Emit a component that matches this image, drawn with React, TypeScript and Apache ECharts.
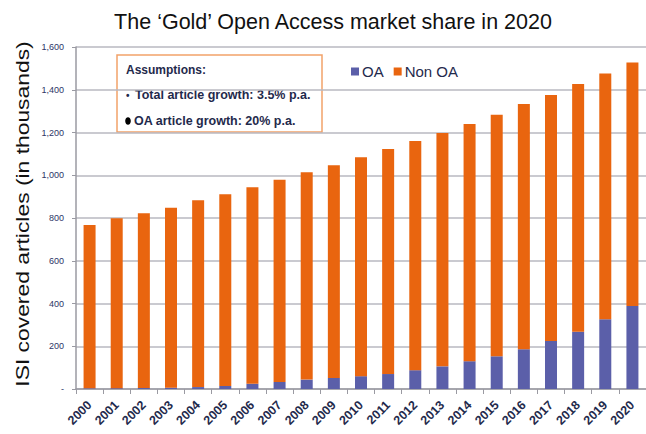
import React, { useEffect, useRef } from "react";
import * as echarts from "echarts";

const years = ["2000","2001","2002","2003","2004","2005","2006","2007","2008","2009","2010","2011","2012","2013","2014","2015","2016","2017","2018","2019","2020"];
const totalArticles = [767, 799, 822, 848, 883, 911, 944, 979, 1014, 1047, 1084, 1123, 1160, 1198, 1240, 1283, 1333, 1375, 1427, 1476, 1527];
const oaArticles = [3, 4, 5, 6, 9, 14, 24, 33, 44, 52, 60, 70, 88, 106, 130, 153, 186, 225, 268, 326, 388];
const nonOaArticles = totalArticles.map((t, i) => t - oaArticles[i]);

const titleText = "The \u2018Gold\u2019 Open Access market share in 2020";
const yAxisName = "ISI covered articles (in thousands)";
const assumptionLines = ["Assumptions:", "Total article growth: 3.5% p.a.", "OA article growth: 20% p.a."];

const ORANGE = "#E9650F";
const BLUE = "#5B5FA9";
const NAVY = "#1F2A4C";
const FONT = "'Liberation Sans', Arial, sans-serif";

export default function App() {
  const ref = useRef<HTMLDivElement>(null);
  useEffect(() => {
    if (!ref.current) return;
    const chart = echarts.init(ref.current, null, { renderer: "svg" });
    chart.setOption({
      animation: false,
      backgroundColor: "#ffffff",
      textStyle: { fontFamily: FONT },
      title: {
        text: titleText,
        left: 333,
        textAlign: "center",
        top: 11,
        padding: 0,
        textStyle: { fontSize: 21.5, fontWeight: "normal", color: "#111111", fontFamily: FONT },
      },
      legend: {
        left: 351,
        top: 64,
        padding: 0,
        itemWidth: 8,
        itemHeight: 8,
        itemGap: 10,
        icon: "rect",
        textStyle: { fontSize: 15, color: NAVY, fontFamily: FONT, padding: [0, 0, 0, -2] },
        data: ["OA", "Non OA"],
      },
      grid: { left: 76, right: -2, top: 47, bottom: 45 },
      xAxis: {
        type: "category",
        data: years,
        axisLine: { lineStyle: { color: "#9a9aa2", width: 1.5 } },
        axisTick: { show: true, length: 5, lineStyle: { color: "#9a9aa2" } },
        axisLabel: {
          rotate: 45,
          fontSize: 12.5,
          fontWeight: "bold",
          color: NAVY,
          margin: 14,
          interval: 0,
          fontFamily: FONT,
        },
      },
      yAxis: {
        type: "value",
        min: 0,
        max: 1600,
        interval: 200,
        axisLine: { show: true, lineStyle: { color: "#9a9aa2", width: 1.5 } },
        axisTick: { show: true, length: 4, lineStyle: { color: "#9a9aa2" } },
        splitLine: { lineStyle: { color: "#b8b8c0", width: 1.5 } },
        axisLabel: {
          fontSize: 9,
          color: "#2C3566",
          margin: 12,
          fontFamily: FONT,
          formatter: (v: number) => (v === 0 ? "-" : v.toLocaleString("en-US")),
        },
      },
      graphic: [
        {
          type: "text",
          x: 22,
          y: 214,
          rotation: Math.PI / 2,
          scaleX: 1.27,
          scaleY: 1,
          style: {
            text: yAxisName,
            fontSize: 18,
            fill: "#111111",
            fontFamily: FONT,
            align: "center",
            verticalAlign: "middle",
          },
        },
        {
          type: "group",
          z: 100,
          children: [
            {
              type: "rect",
              shape: { x: 117, y: 55, width: 205, height: 77 },
              style: { fill: "#ffffff", stroke: "#F2A26A", lineWidth: 1.5 },
            },
            {
              type: "text",
              style: { text: assumptionLines[0], x: 126, y: 70, fontSize: 12, fontWeight: "bold", fill: NAVY, fontFamily: FONT, verticalAlign: "middle" },
            },
            {
              type: "text",
              style: { text: "\u2022", x: 126, y: 95, fontSize: 10, fontWeight: "bold", fill: NAVY, fontFamily: FONT, verticalAlign: "middle" },
            },
            {
              type: "text",
              style: { text: assumptionLines[1], x: 135, y: 95, fontSize: 12.5, fontWeight: "bold", fill: NAVY, fontFamily: FONT, verticalAlign: "middle" },
            },
            {
              type: "ellipse",
              shape: { cx: 128, cy: 121, rx: 2.8, ry: 3.8 },
              style: { fill: "#000000" },
            },
            {
              type: "text",
              style: { text: assumptionLines[2], x: 134, y: 121, fontSize: 12.5, fontWeight: "bold", fill: NAVY, fontFamily: FONT, verticalAlign: "middle" },
            },
          ],
        },
      ],
      series: [
        {
          name: "OA",
          type: "bar",
          stack: "total",
          barWidth: 12,
          itemStyle: { color: BLUE },
          data: oaArticles,
        },
        {
          name: "Non OA",
          type: "bar",
          stack: "total",
          barWidth: 12,
          itemStyle: { color: ORANGE },
          data: nonOaArticles,
        },
      ],
    });
    return () => chart.dispose();
  }, []);
  return (
    <div
      ref={ref}
      style={{ position: "fixed", left: 0, top: 0, width: 646, height: 434, background: "#fff" }}
    />
  );
}
